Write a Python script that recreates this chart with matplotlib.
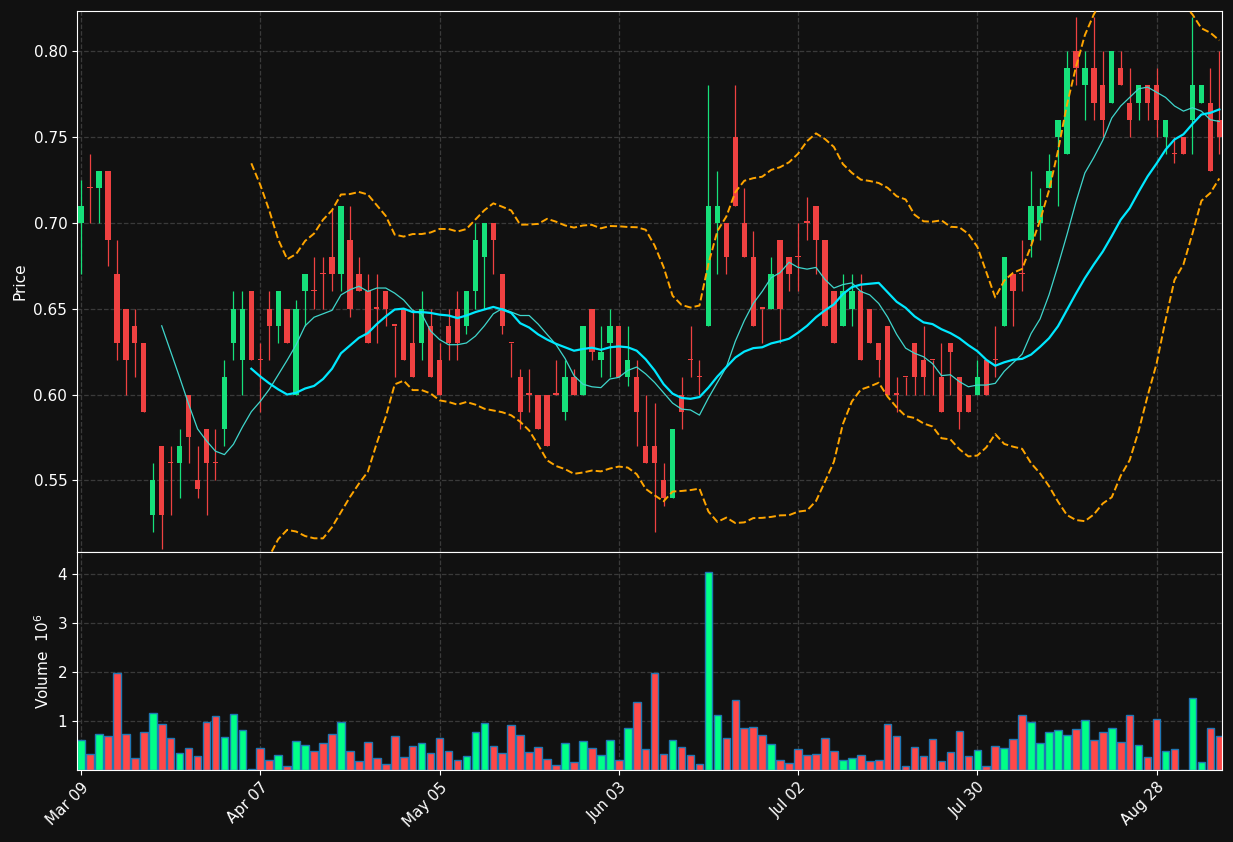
import numpy as np
import pandas as pd
import matplotlib
matplotlib.use("Agg")
import matplotlib.pyplot as plt

opens = [.70,.72,.72,.73,.67,.65,.64,.63,.53,.57,.56,.56,.60,.55,.58,.56,.58,.63,.62,.66,
         .62,.65,.64,.65,.60,.66,.66,.67,.68,.67,.69,.67,.66,.65,.66,.64,.65,.63,.63,.64,
         .62,.64,.65,.64,.66,.68,.70,.67,.63,.61,.60,.60,.60,.60,.59,.61,.60,.65,.62,.63,
         .64,.61,.61,.57,.57,.55,.54,.60,.62,.61,.64,.70,.70,.75,.70,.68,.65,.65,.69,.68,
         .68,.70,.71,.69,.66,.64,.65,.66,.65,.63,.64,.60,.61,.63,.62,.62,.61,.63,.61,.60,
         .60,.62,.62,.64,.67,.67,.69,.70,.72,.75,.74,.80,.78,.79,.78,.77,.79,.77,.77,.78,
         .78,.75,.74,.75,.76,.77,.77,.76]
closes = [.71,.72,.73,.69,.63,.62,.63,.59,.55,.53,.56,.57,.575,.545,.56,.56,.61,.65,.65,.62,
          .62,.64,.66,.63,.65,.67,.66,.67,.67,.71,.65,.66,.63,.65,.65,.64,.62,.61,.65,.61,
          .60,.63,.63,.66,.69,.70,.69,.64,.63,.59,.60,.58,.57,.60,.61,.60,.64,.625,.625,.64,
          .61,.62,.59,.56,.56,.54,.58,.59,.62,.61,.71,.71,.68,.71,.68,.64,.65,.67,.65,.67,
          .68,.70,.69,.64,.63,.66,.66,.62,.63,.62,.60,.60,.61,.61,.61,.62,.59,.625,.59,.59,
          .61,.60,.62,.68,.66,.67,.71,.71,.73,.76,.79,.79,.79,.77,.76,.80,.78,.76,.78,.77,
          .76,.76,.74,.74,.78,.78,.73,.75]
highs = [.725,.74,.73,.73,.69,.65,.65,.63,.56,.57,.57,.58,.60,.57,.58,.58,.62,.66,.66,.66,
         .63,.66,.66,.65,.655,.67,.68,.68,.708,.71,.71,.68,.67,.67,.66,.64,.65,.65,.66,.65,
         .63,.65,.66,.66,.70,.70,.70,.67,.63,.615,.615,.60,.60,.62,.62,.615,.64,.65,.64,.65,
         .64,.64,.62,.60,.595,.56,.58,.61,.64,.62,.78,.73,.70,.78,.72,.695,.65,.68,.69,.68,
         .70,.715,.71,.69,.66,.67,.67,.67,.65,.63,.64,.61,.61,.63,.64,.62,.63,.63,.61,.60,
         .62,.62,.64,.68,.67,.69,.73,.72,.74,.76,.80,.82,.80,.82,.80,.80,.80,.79,.78,.78,
         .79,.76,.75,.75,.82,.78,.79,.80]
lows = [.67,.70,.70,.675,.62,.60,.61,.59,.52,.51,.53,.54,.56,.54,.53,.55,.57,.62,.60,.62,
        .59,.62,.63,.63,.60,.64,.65,.65,.66,.66,.645,.66,.63,.63,.64,.61,.62,.61,.62,.61,
        .60,.62,.62,.635,.65,.65,.67,.635,.61,.58,.59,.58,.57,.60,.585,.60,.60,.62,.61,.61,
        .61,.605,.57,.56,.52,.535,.54,.58,.61,.60,.64,.67,.67,.71,.68,.64,.63,.65,.63,.66,
        .66,.69,.67,.64,.63,.64,.64,.62,.63,.61,.60,.59,.60,.60,.60,.60,.59,.60,.58,.59,
        .60,.60,.61,.64,.64,.66,.68,.69,.72,.71,.74,.78,.76,.76,.75,.77,.78,.75,.76,.76,
        .75,.74,.735,.74,.74,.77,.73,.74]
volumes = [.61,.32,.73,.69,1.99,.73,.24,.77,1.16,.94,.65,.34,.45,.28,.98,1.10,.67,1.14,.82,.03,
           .45,.20,.30,.08,.59,.51,.38,.55,.73,.98,.38,.18,.57,.24,.12,.69,.26,.49,.55,.34,
           .65,.38,.20,.28,.77,.96,.49,.34,.92,.71,.36,.47,.22,.10,.55,.16,.59,.45,.30,.61,
           .20,.86,1.39,.42,1.97,.32,.61,.47,.30,.12,4.04,1.12,.65,1.43,.86,.88,.71,.53,.20,.14,
           .42,.30,.32,.65,.38,.20,.24,.30,.18,.20,.94,.69,.08,.47,.28,.63,.18,.36,.79,.28,
           .40,.08,.49,.45,.63,1.12,.98,.55,.77,.82,.71,.84,1.02,.61,.77,.86,.57,1.12,.51,.26,
           1.04,.38,.42,.01,1.47,.16,.86,.69]
tick_positions = [0, 20, 40, 60, 80, 100, 120]
tick_labels = ["Mar 09", "Apr 07", "May 05", "Jun 03", "Jul 02", "Jul 30", "Aug 28"]

o, c, h, l, v = map(np.array, (opens, closes, highs, lows, volumes))
n = len(c)
x = np.arange(n)
up = c > o
UPC, DNC = '#16e07a', '#ef4141'
BG = '#111111'

fig = plt.figure(figsize=(12.33, 8.42), dpi=100, facecolor=BG)
ax = fig.add_axes([77/1233, 1-552/842, 1145/1233, 541/842], facecolor=BG)
axv = fig.add_axes([77/1233, 1-770/842, 1145/1233, 218/842], facecolor=BG, sharex=ax)

cols = np.where(up, UPC, DNC)
ax.vlines(x, l, h, colors=cols, linewidth=0.9, zorder=2)
body = np.abs(c - o)
body = np.where(body < 0.001, 0.0008, body)
ax.bar(x, body, bottom=np.minimum(o, c), width=0.6, color=cols, zorder=3)

s = pd.Series(c)
ma10 = s.rolling(10).mean()
ma20 = s.rolling(20).mean()
sd20 = s.rolling(20).std(ddof=0)
ax.plot(x, ma10, color='#3fd6cc', lw=0.9, zorder=4)
ax.plot(x, ma20, color='#00e8ff', lw=1.6, zorder=4)
ax.plot(x, ma20 + 2*sd20, color='orange', lw=1.4, ls='--', zorder=4)
ax.plot(x, ma20 - 2*sd20, color='orange', lw=1.4, ls='--', zorder=4)

axv.bar(x, v, width=0.85, color=np.where(up, '#00ff88', '#ff4848'),
        edgecolor='#1f77b4', linewidth=1.0)

ax.set_xlim(-0.45, n - 0.7)
ax.set_ylim(0.5083, 0.8233)
axv.set_ylim(0, 4.45)
ax.set_yticks([0.55, 0.60, 0.65, 0.70, 0.75, 0.80])
axv.set_yticks([1, 2, 3, 4])
axv.set_xticks(tick_positions)
axv.set_xticklabels(tick_labels, rotation=45, ha='right', rotation_mode='anchor')
plt.setp(ax.get_xticklabels(), visible=False)

for a in (ax, axv):
    a.grid(True, color='#3a3a3a', ls='--', lw=0.9)
    a.set_axisbelow(True)
    for sp in a.spines.values():
        sp.set_color('white')
    a.tick_params(colors='white', labelsize=11)
ax.set_ylabel('Price', color='white', fontsize=11)
axv.set_ylabel('Volume  $10^{6}$', color='white', fontsize=11)

fig.savefig('out.png', dpi=100, facecolor=BG)
